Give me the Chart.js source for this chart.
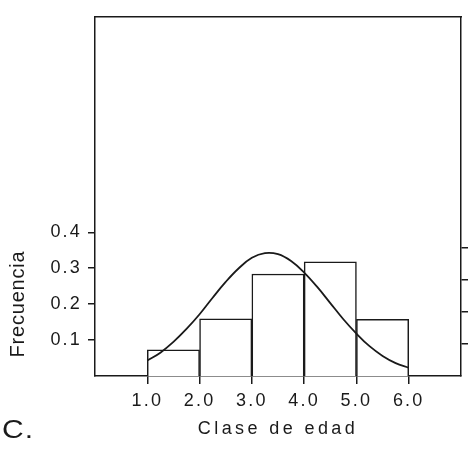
<!DOCTYPE html>
<html>
<head>
<meta charset="utf-8">
<script src="https://cdn.jsdelivr.net/npm/chart.js@4"></script>
<style>
  html, body { margin: 0; padding: 0; background: #fff; }
</style>
</head>
<body>
<canvas id="ageChart" width="471" height="463"></canvas>
<script>

    // histogram bins (centre of each age class) and their frequency
    const binCenters = [1.5, 2.5, 3.5, 4.5, 5.5];
    const binFreq = [0.073, 0.159, 0.284, 0.318, 0.158];

    // fitted curve
    const curveX = [1.0, 1.25, 1.5, 1.75, 2.0, 2.25, 2.5, 2.75, 3.0, 3.25, 3.5,
                    3.75, 4.0, 4.25, 4.5, 4.75, 5.0, 5.25, 5.5, 5.75, 6.0];
    const curveY = [0.043, 0.065, 0.095, 0.131, 0.172, 0.218, 0.262, 0.300, 0.329, 0.342, 0.339,
                    0.320, 0.288, 0.248, 0.203, 0.158, 0.118, 0.083, 0.056, 0.036, 0.023];

    const xTicks = [1, 2, 3, 4, 5, 6];
    const yTicks = [0.1, 0.2, 0.3, 0.4];
    const rightTicks = [1, 2, 3, 4];

    const ink = "#1a1a1a";
    const face = "'Liberation Sans', Arial, Helvetica, sans-serif";

    const setTicks = (list) => (scale) => {
        scale.ticks = list.map(v => ({ value: v }));
    };

    // the scanned axis title is tracked wider than the tick labels
    const widenTitle = (scale) => {
        if (scale._widened) return;
        const orig = scale.drawTitle;
        scale.drawTitle = function () {
            this.ctx.save();
            this.ctx.letterSpacing = "3.4px";
            orig.call(this);
            this.ctx.restore();
        };
        scale._widened = true;
    };

    const extraText = {
        id: "extraText",
        beforeDraw(chart) {
            chart.ctx.letterSpacing = "2.2px";
        },
        afterDraw(chart) {
            const ctx = chart.ctx;
            ctx.save();
            ctx.fillStyle = ink;
            ctx.letterSpacing = "0.8px";
            ctx.font = "20px " + face;
            ctx.translate(24, 304);
            ctx.rotate(-Math.PI / 2);
            ctx.textAlign = "center";
            ctx.textBaseline = "alphabetic";
            ctx.fillText("Frecuencia", 0, 0);
            ctx.restore();

            ctx.save();
            ctx.fillStyle = ink;
            ctx.letterSpacing = "1px";
            ctx.font = "25px " + face;
            ctx.textAlign = "left";
            ctx.textBaseline = "alphabetic";
            ctx.translate(2, 438);
            ctx.scale(1.2, 1);
            ctx.fillText("C.", 0, 0);
            ctx.restore();
        }
    };

    new Chart(document.getElementById("ageChart"), {
        data: {
            datasets: [
                {
                    type: "line",
                    data: curveX.map((x, i) => ({ x: x, y: curveY[i] })),
                    borderColor: ink,
                    borderWidth: 1.8,
                    pointRadius: 0,
                    tension: 0.4,
                    fill: false,
                    order: 0
                },
                {
                    type: "bar",
                    data: binCenters.map((x, i) => ({ x: x, y: binFreq[i] })),
                    backgroundColor: "#ffffff",
                    borderColor: ink,
                    borderWidth: 1.5,
                    barPercentage: 1,
                    categoryPercentage: 1,
                    order: 1
                }
            ]
        },
        options: {
            responsive: false,
            animation: false,
            layout: { padding: 0 },
            plugins: {
                legend: { display: false },
                tooltip: { enabled: false }
            },
            scales: {
                x: {
                    type: "linear",
                    position: "bottom",
                    offset: false,
                    min: 0,
                    max: 7,
                    afterBuildTicks: setTicks(xTicks),
                    afterFit: (s) => { s.height = 87; widenTitle(s); },
                    grid: { offset: false, drawOnChartArea: false, tickLength: 8, color: ink, lineWidth: 1.5 },
                    border: { display: true, color: ink, width: 1.5 },
                    ticks: {
                        padding: 6,
                        color: ink,
                        font: { family: face, size: 18 },
                        maxRotation: 0,
                        callback: (v) => v.toFixed(1)
                    },
                    title: {
                        display: true,
                        text: "Clase de edad",
                        color: ink,
                        font: { family: face, size: 18 },
                        padding: { top: 0, bottom: 23 }
                    }
                },
                x2: {
                    type: "linear",
                    position: "top",
                    offset: false,
                    min: 0,
                    max: 7,
                    afterFit: (s) => { s.height = 7; },
                    grid: { display: false },
                    border: { display: true, color: ink, width: 1.5 },
                    ticks: { display: false }
                },
                y: {
                    position: "left",
                    min: 0,
                    max: 1.0,
                    afterBuildTicks: setTicks(yTicks),
                    afterFit: (s) => { s.width = 95; },
                    grid: { drawOnChartArea: false, tickLength: 7, color: ink, lineWidth: 1.5 },
                    border: { display: true, color: ink, width: 1.5 },
                    ticks: {
                        padding: 6,
                        color: ink,
                        font: { family: face, size: 18 },
                        callback: (v) => v.toFixed(1)
                    }
                },
                y2: {
                    position: "right",
                    min: 0,
                    max: 11.2,
                    afterBuildTicks: setTicks(rightTicks),
                    afterFit: (s) => { s.width = 10; },
                    grid: { drawOnChartArea: false, tickLength: 7, color: ink, lineWidth: 1.5 },
                    border: { display: true, color: ink, width: 1.5 },
                    ticks: { display: false }
                }
            }
        },
        plugins: [extraText]
    });

</script>
</body>
</html>
